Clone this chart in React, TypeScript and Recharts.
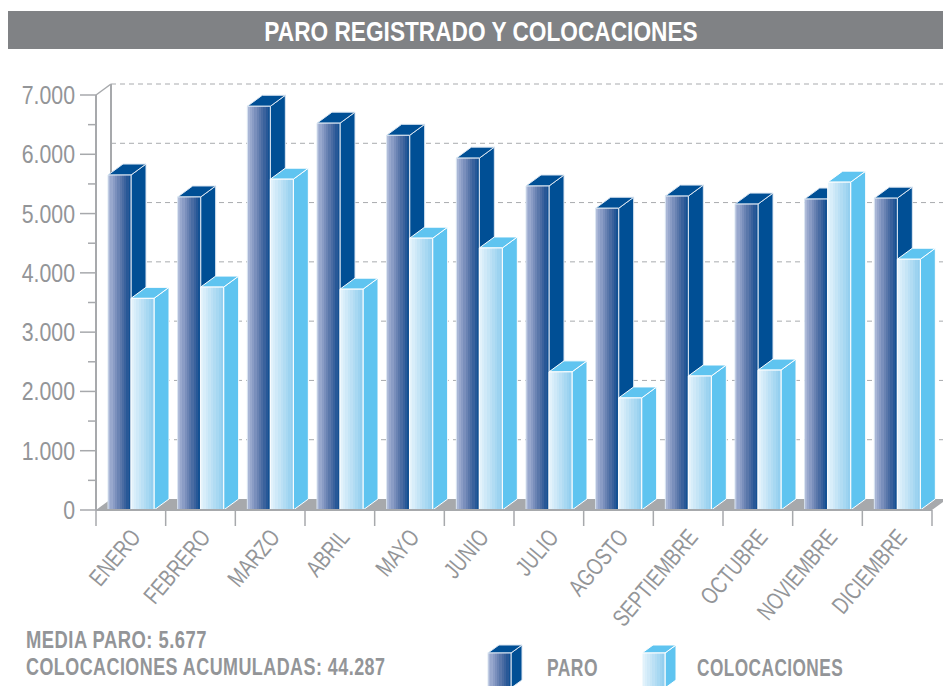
import { BarChart, Bar, XAxis, YAxis, CartesianGrid, usePlotArea } from 'recharts';

const months = ['ENERO', 'FEBRERO', 'MARZO', 'ABRIL', 'MAYO', 'JUNIO', 'JULIO', 'AGOSTO', 'SEPTIEMBRE', 'OCTUBRE', 'NOVIEMBRE', 'DICIEMBRE'];
const paro = [5650, 5280, 6810, 6525, 6320, 5935, 5465, 5090, 5295, 5160, 5245, 5260];
const colocaciones = [3570, 3760, 5580, 3725, 4585, 4420, 2330, 1890, 2260, 2360, 5530, 4230];
const yTicks = [0, 500, 1000, 1500, 2000, 2500, 3000, 3500, 4000, 4500, 5000, 5500, 6000, 6500, 7000];

const data = months.map((month, i) => ({ month, paro: paro[i], colocaciones: colocaciones[i] }));

const FONT = '"Liberation Sans", sans-serif';
const GREY = '#939598';
const AXIS = '#a7a9ac';
const DX = 15;
const DY = 11;
const BAND = 836 / 12;

const paroBands = ['#a9b6d6', '#98a8cd', '#8a9cc5', '#7a8fbc', '#6a83b3', '#5a77aa', '#4a6ca3', '#3a629d', '#285897', '#145193'];
const colocBands = ['#e2f2fb', '#d8eefa', '#cfe9f8', '#c5e5f6', '#bbe0f5', '#b1dcf3', '#a7d8f2', '#9dd3f0', '#94cfef'];

function bandStops(colors: string[]) {
  return colors.flatMap((c, i) => [
    <stop key={i + 'a'} offset={i / colors.length} stopColor={c} />,
    <stop key={i + 'b'} offset={(i + 1) / colors.length} stopColor={c} />,
  ]);
}

// no hay fuente condensada instalada, se estrecha la Liberation a mano
function NarrowText({ x, y, sx, rotate = 0, children, ...rest }: any) {
  return (
    <text transform={`translate(${x} ${y}) rotate(${rotate}) scale(${sx} 1)`} fontFamily={FONT} {...rest}>
      {children}
    </text>
  );
}

function Box({ x, y, width, height, front, dark, edge }: any) {
  const r = x + width;
  const b = y + height;
  return (
    <g stroke={edge} strokeWidth={1} strokeLinejoin="round">
      <polygon points={`${r},${b} ${r + DX},${b - DY} ${r + DX},${y - DY} ${r},${y}`} fill={dark} />
      <polygon points={`${x},${y} ${x + DX},${y - DY} ${r + DX},${y - DY} ${r},${y}`} fill={dark} />
      <rect x={x} y={y} width={width} height={height} fill={front} />
    </g>
  );
}

function ParoBar(props: any) {
  return <Box {...props} front="url(#paroFront)" dark="#004f95" edge="#dbe6f2" />;
}

function ColocBar(props: any) {
  return <Box {...props} front="url(#colocFront)" dark="#5fc4f0" edge="#ffffff" />;
}

// suelo y pared del fondo
function Floor() {
  const area = usePlotArea();
  if (!area) return null;
  const { x, y, width, height } = area;
  const b = y + height;
  return (
    <g>
      <polygon points={`${x},${b} ${x + DX},${b - DY} ${x + width + DX},${b - DY} ${x + width},${b}`} fill={AXIS} />
      <line x1={x} y1={y} x2={x + DX} y2={y - DY} stroke={AXIS} strokeWidth={1.5} />
      <line x1={x + DX} y1={y - DY} x2={x + DX} y2={b - DY} stroke={AXIS} strokeWidth={2} />
    </g>
  );
}

function GridLine({ x1, y1, x2, y2 }: any) {
  return <line x1={x1 + DX} y1={y1 - DY} x2={x2 + DX} y2={y2 - DY} stroke="#a9abae" strokeWidth={1} strokeDasharray="5 4" />;
}

function YTick({ x, y, payload }: any) {
  const major = payload.value % 1000 === 0;
  const label = payload.value === 0 ? '0' : `${payload.value / 1000}.000`;
  return (
    <g>
      <line x1={x - (major ? 16 : 8)} y1={y} x2={x} y2={y} stroke={AXIS} strokeWidth={1.5} />
      {major && (
        <NarrowText x={x - 21} y={y + 9} sx={0.82} textAnchor="end" fontSize={26} fill={GREY}>
          {label}
        </NarrowText>
      )}
    </g>
  );
}

function XTick({ x, y, payload, index }: any) {
  const left = x - BAND / 2;
  return (
    <g>
      <line x1={left} y1={y} x2={left} y2={y + 16} stroke={AXIS} strokeWidth={1.5} />
      {index === months.length - 1 && (
        <line x1={left + BAND} y1={y} x2={left + BAND} y2={y + 16} stroke={AXIS} strokeWidth={1.5} />
      )}
      <NarrowText x={x + 11} y={y + 28} sx={0.76} rotate={-50} textAnchor="end" fontSize={24} fill={GREY}>
        {payload.value}
      </NarrowText>
    </g>
  );
}

function LegendBox({ x, front, dark, edge }: any) {
  const w = 23;
  const top = 653;
  return (
    <g stroke={edge} strokeWidth={1}>
      <polygon points={`${x + w},${top} ${x + w + 11},${top - 8} ${x + w + 11},${top + 27} ${x + w},${top + 35}`} fill={dark} />
      <polygon points={`${x},${top} ${x + 11},${top - 8} ${x + w + 11},${top - 8} ${x + w},${top}`} fill={dark} />
      <rect x={x} y={top} width={w} height={35} fill={front} />
    </g>
  );
}

const labelStyle = { fontWeight: 700, fontSize: 23, fill: GREY, letterSpacing: 0.6 };

export default function App() {
  return (
    <div style={{ position: 'absolute', left: 0, top: 0, width: 943, height: 686, overflow: 'hidden', background: '#fff' }}>
      <BarChart
        width={943}
        height={686}
        data={data}
        margin={{ top: 95, right: 11, bottom: 0, left: 0 }}
        barSize={23}
        barGap={0}
      >
        <defs>
          <linearGradient id="paroFront" x1="0" x2="1" y1="0" y2="0">
            {bandStops(paroBands)}
          </linearGradient>
          <linearGradient id="colocFront" x1="0" x2="1" y1="0" y2="0">
            {bandStops(colocBands)}
          </linearGradient>
        </defs>
        <rect x={8} y={11} width={935} height={38} fill="#808285" />
        <NarrowText x={481} y={41} sx={0.84} textAnchor="middle" fontWeight={700} fontSize={27} fill="#fff">
          PARO REGISTRADO Y COLOCACIONES
        </NarrowText>
        <CartesianGrid vertical={false} horizontal={GridLine as any} syncWithTicks={false} horizontalValues={[1000, 2000, 3000, 4000, 5000, 6000, 7000]} />
        <Floor />
        <XAxis
          dataKey="month"
          interval={0}
          height={176}
          tickSize={0}
          tickMargin={0}
          tickLine={false}
          axisLine={{ stroke: AXIS, strokeWidth: 2 }}
          tick={<XTick />}
        />
        <YAxis
          width={96}
          domain={[0, 7000]}
          ticks={yTicks}
          interval={0}
          tickSize={0}
          tickMargin={0}
          tickLine={false}
          axisLine={{ stroke: AXIS, strokeWidth: 2 }}
          tick={<YTick />}
        />
        <Bar dataKey="paro" isAnimationActive={false} shape={<ParoBar />} />
        <Bar dataKey="colocaciones" isAnimationActive={false} shape={<ColocBar />} />
        <NarrowText x={26} y={648} sx={0.8} {...labelStyle}>MEDIA PARO: 5.677</NarrowText>
        <NarrowText x={26} y={675} sx={0.78} {...labelStyle}>COLOCACIONES ACUMULADAS: 44.287</NarrowText>
        <LegendBox x={488} front="url(#paroFront)" dark="#004f95" edge="#dbe6f2" />
        <NarrowText x={547} y={676} sx={0.76} {...labelStyle}>PARO</NarrowText>
        <LegendBox x={642} front="url(#colocFront)" dark="#5fc4f0" edge="#ffffff" />
        <NarrowText x={697} y={676} sx={0.75} {...labelStyle}>COLOCACIONES</NarrowText>
      </BarChart>
    </div>
  );
}
